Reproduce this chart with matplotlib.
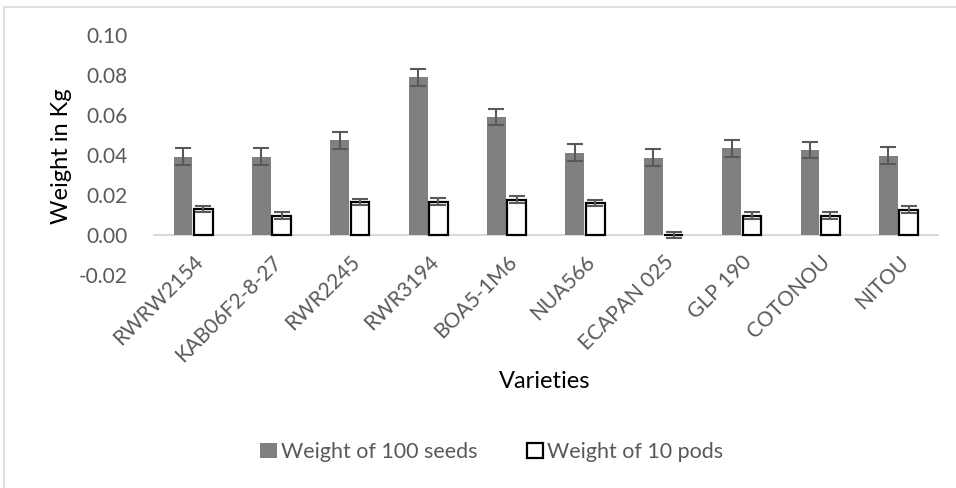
import numpy as np
import matplotlib.pyplot as plt
from matplotlib.patches import Rectangle

plt.rcParams['font.family'] = ['Lato', 'DejaVu Sans']

varieties = ['RWRW2154', 'KAB06F2-8-27', 'RWR2245', 'RWR3194', 'BOA5-1M6',
             'NUA566', 'ECAPAN 025', 'GLP 190', 'COTONOU', 'NITOU']
seeds100 = [0.0392, 0.0392, 0.0473, 0.0790, 0.0590, 0.0412, 0.0387, 0.0434, 0.0425, 0.0397]
pods10 = [0.0130, 0.0097, 0.0165, 0.0167, 0.0177, 0.0160, 0.0, 0.0097, 0.0097, 0.0127]
seeds_err = 0.0042
pods_err = 0.0017

txt = '#595959'
fig = plt.figure(figsize=(9.56, 4.88), dpi=100)
ax = fig.add_axes([0.161, 0.4365, 0.82, 0.4915])

# zero line acts as the category axis
for s in ['top', 'right', 'left']:
    ax.spines[s].set_visible(False)
ax.spines['bottom'].set_position(('data', 0))
ax.spines['bottom'].set_color('#d9d9d9')
ax.spines['bottom'].set_linewidth(1.5)
ax.spines['bottom'].set_zorder(1)

x = np.arange(len(varieties))
w = 0.24
ax.bar(x - w/2 - 0.01, seeds100, w, color='#808080', label='Weight of 100 seeds',
       yerr=seeds_err, error_kw=dict(ecolor=txt, elinewidth=1.5, capsize=6, capthick=1.5), zorder=2)
ax.bar(x + w/2 + 0.01, pods10, w, color='white', edgecolor='black', linewidth=1.6,
       label='Weight of 10 pods',
       yerr=pods_err, error_kw=dict(ecolor=txt, elinewidth=1.5, capsize=6, capthick=1.5), zorder=2)

ax.set_xlim(-0.5, len(varieties) - 0.5)
ax.set_ylim(-0.02, 0.10)
ax.set_yticks(np.arange(-0.02, 0.101, 0.02))
ax.set_yticklabels(['%.2f' % v for v in np.arange(-0.02, 0.101, 0.02)])
ax.set_xticks(x)
ax.set_xticklabels(varieties)
ax.tick_params(axis='both', length=0, labelsize=15, labelcolor=txt)
ax.tick_params(axis='x', pad=12)
ax.tick_params(axis='y', pad=19)
for lab in ax.get_xticklabels():
    lab.set_rotation(45)
    lab.set_ha('right')
    lab.set_rotation_mode('anchor')

fig.text(61/956, 0.68, 'Weight in Kg', fontsize=17, rotation=90, ha='center', va='center')
fig.text(545/956, 1 - 382/488, 'Varieties', fontsize=17, ha='center', va='center')

fig.legend(loc='center', bbox_to_anchor=(492/956, 1 - 452/488), ncol=2, frameon=False,
           fontsize=15.5, labelcolor=txt, handlelength=0.75, handleheight=0.75,
           handletextpad=0.2, columnspacing=2.3)

fig.patches.append(Rectangle((4/956, -0.02), 1.0, 1 - 7/488 + 0.02, transform=fig.transFigure,
                             fill=False, edgecolor='#d9d9d9', linewidth=1.2))

fig.savefig('out.png', dpi=100)
